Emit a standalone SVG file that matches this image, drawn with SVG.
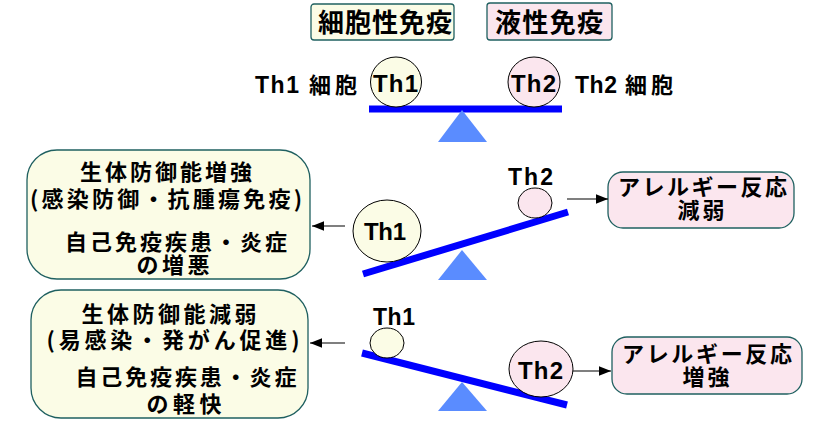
<svg xmlns="http://www.w3.org/2000/svg" width="835" height="427" viewBox="0 0 835 427">
<defs>
<style>
.jp{font-family:"Noto Sans CJK JP","Liberation Sans",sans-serif;font-weight:bold;fill:#000;}
.th{font-family:"Liberation Sans",Arial,sans-serif;font-weight:bold;fill:#000;}
.yb{fill:#fbfce6;stroke:#1f6060;stroke-width:1.3;}
.pb{fill:#fbe6ee;stroke:#1f6060;stroke-width:1.3;}
.yc{fill:#fbfce6;stroke:#000;stroke-width:1;}
.pc{fill:#fbe6ee;stroke:#000;stroke-width:1;}
.beam{stroke:#0000ff;stroke-width:7;fill:none;}
.tri{fill:#5a8cff;}
.conn{stroke:#000;stroke-width:1.2;fill:none;marker-end:url(#ah);}
</style>
<marker id="ah" viewBox="0 0 10 10" refX="10" refY="5" markerWidth="12" markerHeight="12" markerUnits="userSpaceOnUse" orient="auto">
<path d="M0,1 L10,5 L0,9 z" fill="#000"/>
</marker>
</defs>
<rect width="835" height="427" fill="#fff"/>

<g id="header-cellular">
<rect class="yb" x="311" y="4" width="143" height="36" rx="3"/>
<text class="jp" x="318" y="32" font-size="26" textLength="134">細胞性免疫</text>
</g>
<g id="header-humoral">
<rect class="pb" x="487" y="3" width="125" height="37" rx="3"/>
<text class="jp" x="495" y="32" font-size="26" textLength="108">液性免疫</text>
</g>

<g id="scale-top">
<line class="beam" x1="369" y1="109" x2="562" y2="109" stroke-width="6"/>
<polygon class="tri" points="462,110 438,142 487,142"/>
</g>
<g id="label-th1-cell">
<text class="th" x="255" y="93" font-size="23" textLength="44">Th1</text>
<text class="jp" x="309" y="93" font-size="22" textLength="48">細胞</text>
</g>
<g id="th1-top">
<ellipse class="yc" cx="396" cy="82" rx="25.5" ry="25"/>
<text class="th" x="373" y="92" font-size="24" textLength="45">Th1</text>
</g>
<g id="th2-top">
<ellipse class="pc" cx="534" cy="82" rx="26" ry="25"/>
<text class="th" x="511" y="92" font-size="24" textLength="45">Th2</text>
</g>
<g id="label-th2-cell">
<text class="th" x="575" y="93" font-size="23" textLength="42">Th2</text>
<text class="jp" x="625" y="93" font-size="22" textLength="48">細胞</text>
</g>

<g id="box-mid-left">
<rect class="yb" x="27" y="150" width="283" height="129" rx="30"/>
<text class="jp" x="166" y="180" font-size="22" text-anchor="middle" textLength="172">生体防御能増強</text>
<text class="jp" x="166" y="207" font-size="22" text-anchor="middle" textLength="272">(感染防御・抗腫瘍免疫)</text>
<text class="jp" x="176" y="250" font-size="22" text-anchor="middle" textLength="222">自己免疫疾患・炎症</text>
<text class="jp" x="173" y="273" font-size="22" text-anchor="middle" textLength="73">の増悪</text>
</g>
<g id="scale-mid">
<line class="beam" x1="363" y1="274" x2="568" y2="212"/>
<polygon class="tri" points="462,250 438,280 487,280"/>
</g>
<g id="th1-mid">
<ellipse class="yc" cx="387" cy="231" rx="34" ry="31"/>
<text class="th" x="364" y="240" font-size="24" textLength="42">Th1</text>
</g>
<g id="th2-mid">
<text class="th" x="508" y="185" font-size="23" textLength="45">Th2</text>
<ellipse class="pc" cx="535" cy="203" rx="17" ry="15"/>
</g>
<g id="box-mid-right">
<rect class="pb" x="608" y="172" width="186" height="56" rx="15"/>
<text class="jp" x="618" y="195" font-size="22" textLength="169">アレルギー反応</text>
<text class="jp" x="701" y="218" font-size="22" text-anchor="middle" textLength="47">減弱</text>
</g>

<g id="box-bot-left">
<rect class="yb" x="31" y="290" width="277" height="128" rx="30"/>
<text class="jp" x="169" y="322" font-size="22" text-anchor="middle" textLength="175">生体防御能減弱</text>
<text class="jp" x="173" y="348" font-size="22" text-anchor="middle" textLength="253">(易感染・発がん促進)</text>
<text class="jp" x="186" y="385" font-size="22" text-anchor="middle" textLength="221">自己免疫疾患・炎症</text>
<text class="jp" x="184" y="412" font-size="22" text-anchor="middle" textLength="75">の軽快</text>
</g>
<g id="scale-bot">
<line class="beam" x1="362" y1="353" x2="567" y2="405"/>
<polygon class="tri" points="462,382 438,411 487,411"/>
</g>
<g id="th1-bot">
<text class="th" x="373" y="325" font-size="23" textLength="42">Th1</text>
<ellipse class="yc" cx="387" cy="343" rx="17" ry="15"/>
</g>
<g id="th2-bot">
<ellipse class="pc" cx="541" cy="369" rx="32" ry="28"/>
<text class="th" x="518" y="379" font-size="24" textLength="45">Th2</text>
</g>
<g id="box-bot-right">
<rect class="pb" x="612" y="337" width="190" height="57" rx="15"/>
<text class="jp" x="622" y="362" font-size="22" textLength="170">アレルギー反応</text>
<text class="jp" x="706" y="385" font-size="22" text-anchor="middle" textLength="47">増強</text>
</g>

<g id="connectors">
<line class="conn" x1="345" y1="226" x2="312" y2="226"/>
<line class="conn" x1="567" y1="199" x2="608" y2="199"/>
<line class="conn" x1="345" y1="343" x2="310" y2="343"/>
<line class="conn" x1="573" y1="371" x2="611" y2="371"/>
</g>
</svg>
